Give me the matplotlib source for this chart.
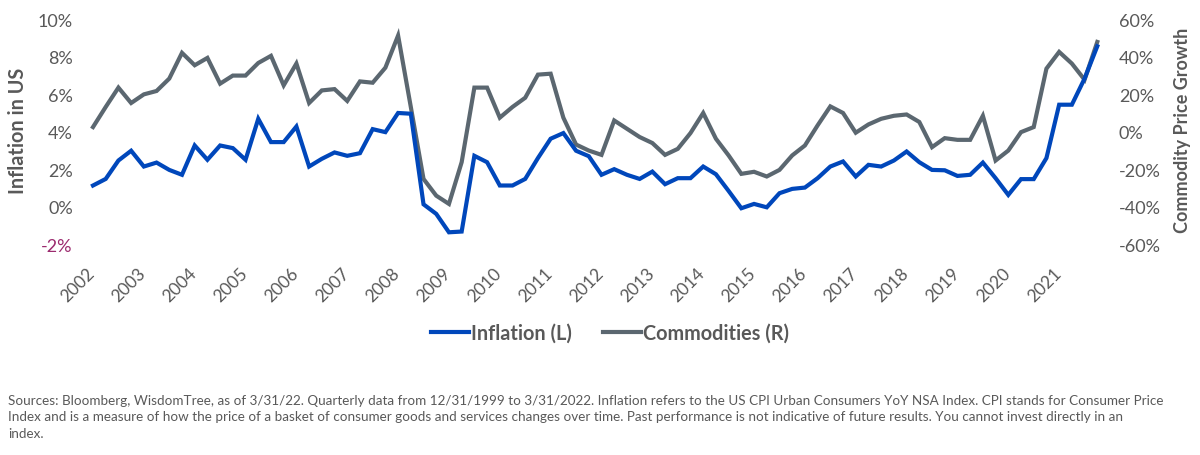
import matplotlib.pyplot as plt
import matplotlib.transforms as mtransforms

# Quarterly series (first point = 2002, labels every 4 quarters)
years = [str(y) for y in range(2002, 2022)]

inflation = [
    1.14, 1.49, 2.47, 2.99, 2.15, 2.36, 1.97, 1.71, 3.27, 2.51,
    3.27, 3.13, 2.51, 4.69, 3.45, 3.45, 4.28, 2.15, 2.56, 2.90,
    2.72, 2.86, 4.14, 3.98, 5.00, 4.96, 0.14, -0.37, -1.35, -1.31,
    2.72, 2.38, 1.14, 1.14, 1.49, 2.60, 3.63, 3.93, 2.99, 2.70,
    1.71, 2.01, 1.71, 1.49, 1.88, 1.21, 1.53, 1.53, 2.15, 1.74,
    0.85, -0.07, 0.16, -0.02, 0.73, 0.96, 1.03, 1.53, 2.15, 2.42,
    1.62, 2.24, 2.15, 2.47, 2.95, 2.38, 1.97, 1.95, 1.65, 1.71,
    2.36, 1.53, 0.64, 1.48, 1.48, 2.60, 5.44, 5.44, 6.83, 8.55,
]

commodities = [
    2.5, 13.2, 23.5, 15.3, 19.9, 21.7, 28.3, 42.0, 35.4, 39.3,
    25.6, 29.9, 29.9, 36.6, 40.4, 24.7, 36.3, 15.3, 22.0, 22.7,
    16.4, 26.8, 26.1, 34.1, 51.2, 13.2, -25.1, -34.0, -38.4, -16.2,
    23.5, 23.5, 7.5, 13.2, 18.1, 30.4, 30.9, 7.5, -6.8, -10.0,
    -12.3, 6.0, 1.6, -2.8, -6.0, -12.3, -9.1, -0.7, 10.0, -3.7,
    -12.6, -22.4, -21.3, -23.8, -20.3, -12.6, -7.3, 3.4, 13.5, 10.0,
    -0.5, 3.9, 6.9, 8.5, 9.2, 5.2, -8.2, -3.4, -4.3, -4.3,
    8.5, -15.3, -10.0, -0.2, 2.5, 33.6, 42.5, 36.3, 27.7, 47.8,
]

left_ticks = [-2, 0, 2, 4, 6, 8, 10]
right_ticks = [-60, -40, -20, 0, 20, 40, 60]

blue = "#0047BB"
grey = "#5B6770"
label_grey = "#595959"

plt.rcParams["font.family"] = ["Lato", "DejaVu Sans"]

fig = plt.figure(figsize=(12, 4.56), dpi=100)
ax = fig.add_axes([0.0722, 0.4616, 0.8475, 0.4945])
ax2 = ax.twinx()

x = list(range(len(inflation)))
ax2.plot(x, commodities, color=grey, linewidth=3, solid_joinstyle="miter",
         label="Commodities (R)")
ax.plot(x, inflation, color=blue, linewidth=3, solid_joinstyle="miter",
        label="Inflation (L)")
ax.set_zorder(ax2.get_zorder() + 1)
ax.patch.set_visible(False)

ax.set_xlim(-0.5, len(x) - 0.5)
ax.set_ylim(-2, 10)
ax2.set_ylim(-60, 60)

ax.set_yticks(left_ticks)
ax.set_yticklabels([f"{v}%" for v in left_ticks])
ax2.set_yticks(right_ticks)
ax2.set_yticklabels([f"{v}%" for v in right_ticks])

ax.set_xticks(list(range(0, len(x), 4)))
ax.set_xticklabels(years, rotation=45, ha="right", va="top")

for a in (ax, ax2):
    for s in a.spines.values():
        s.set_visible(False)
    a.tick_params(length=0, labelsize=13, colors=label_grey)
ax.tick_params(axis="y", pad=10)
ax2.tick_params(axis="y", pad=11)
ax.tick_params(axis="x", pad=14.5, labelsize=12.5)

offset = mtransforms.ScaledTranslation(5 / 100, 0, fig.dpi_scale_trans)
for lab in ax.get_xticklabels():
    lab.set_transform(lab.get_transform() + offset)

ax.get_yticklabels()[0].set_color("#9B2A6E")

ax.set_ylabel("Inflation in US", fontsize=14.3, fontweight="bold",
              color=label_grey)
ax.yaxis.set_label_coords(-(86.6 - 28) / 1017, 0.51)

ax2.set_ylabel("Commodity Price Growth", fontsize=13, fontweight="bold",
               color=label_grey, rotation=90)
ax2.yaxis.set_label_coords(1 + (1174 - 1103.6) / 1017, 0.51)

h1, l1 = ax.get_legend_handles_labels()
h2, l2 = ax2.get_legend_handles_labels()
leg = fig.legend(h1 + h2, l1 + l2, loc="center",
                 bbox_to_anchor=(610 / 1200, 1 - 334 / 456), ncol=2,
                 frameon=False, handlelength=1.9, handletextpad=0.1,
                 columnspacing=1.6, prop={"size": 14.3, "weight": "bold"})
for t in leg.get_texts():
    t.set_color(label_grey)

sources = (
    "Sources: Bloomberg, WisdomTree, as of 3/31/22. Quarterly data from 12/31/1999 to 3/31/2022. "
    "Inflation refers to the US CPI Urban Consumers YoY NSA Index. CPI stands for Consumer Price\n"
    "Index and is a measure of how the price of a basket of consumer goods and services changes over time. "
    "Past performance is not indicative of future results. You cannot invest directly in an\n"
    "index."
)
fig.text(8 / 1200, 1 - 395 / 456, sources, ha="left", va="top", fontsize=9.7,
         color=label_grey, linespacing=1.45)

fig.savefig("out.png", dpi=100)
